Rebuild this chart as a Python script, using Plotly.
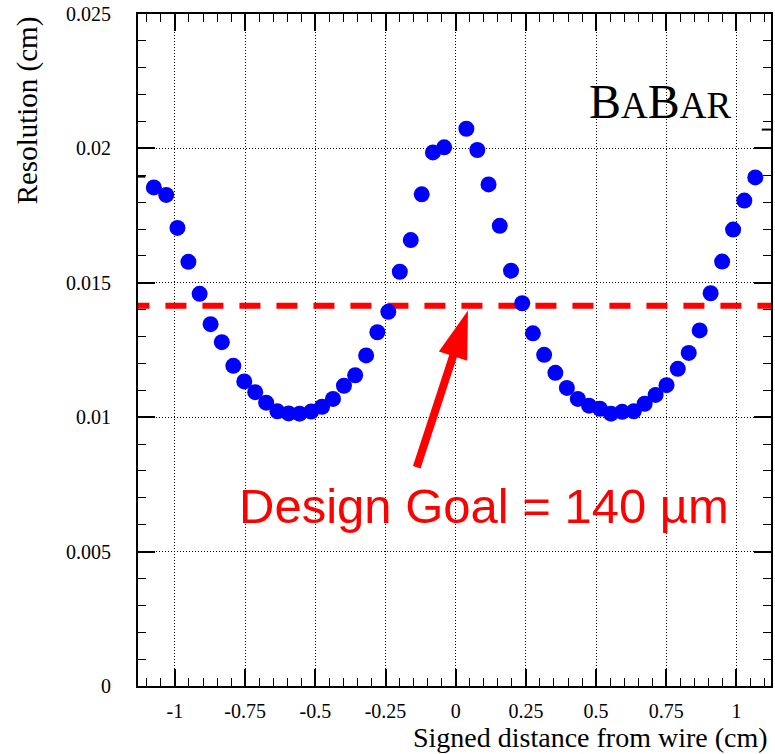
import plotly.graph_objects as go

# ---------------- data ----------------
distance_cm = [
    -1.075, -1.031, -0.991, -0.952, -0.912, -0.873, -0.833, -0.792, -0.753, -0.714,
    -0.675, -0.635, -0.595, -0.556, -0.515, -0.476, -0.437, -0.398, -0.358, -0.319,
    -0.279, -0.240, -0.199, -0.160, -0.121, -0.081, -0.041,
    0.038, 0.077, 0.117, 0.157, 0.197, 0.237, 0.275, 0.315, 0.355, 0.396,
    0.435, 0.475, 0.514, 0.553, 0.593, 0.634, 0.673, 0.712, 0.751, 0.791,
    0.830, 0.869, 0.908, 0.949, 0.988, 1.028, 1.067,
]
resolution_cm = [
    0.01855, 0.01827, 0.01704, 0.01578, 0.01459, 0.01346, 0.01279, 0.01191, 0.01133, 0.01093,
    0.01054, 0.01022, 0.01014, 0.01013, 0.01021, 0.01039, 0.01068, 0.01117, 0.01156, 0.01230,
    0.01316, 0.01392, 0.01541, 0.01659, 0.01829, 0.01985, 0.02004,
    0.02073, 0.01994, 0.01866, 0.01712, 0.01545, 0.01424, 0.01312, 0.01232, 0.01165, 0.01109,
    0.01068, 0.01043, 0.01031, 0.01013, 0.01020, 0.01022, 0.01050, 0.01083, 0.01119, 0.01180,
    0.01239, 0.01323, 0.01461, 0.01579, 0.01698, 0.01806, 0.01892,
]
goal_x = [-1.1656, 1.16]
goal_y = [0.01415, 0.01415]

x_tickvals = [-1, -0.75, -0.5, -0.25, 0, 0.25, 0.5, 0.75, 1]
x_ticktext = ["-1", "-0.75", "-0.5", "-0.25", "0", "0.25", "0.5", "0.75", "1"]
y_tickvals = [0, 0.005, 0.01, 0.015, 0.02, 0.025]
y_ticktext = ["0", "0.005", "0.01", "0.015", "0.02", "0.025"]

arrow_tip = (0.0437, 0.01397)
arrow_tail = (-0.1386, 0.00814)

# ---------------- layout geometry ----------------
W, H = 775, 754
ML, MR, MT, MB = 138, 2, 14, 68
XR = [-1.1315, 1.123]
YR = [0.0, 0.025]
PW, PH = W - ML - MR, H - MT - MB


def d2p(x, y):
    px = ML + (x - XR[0]) / (XR[1] - XR[0]) * PW
    py = MT + PH - (y - YR[0]) / (YR[1] - YR[0]) * PH
    return px, py


def p2d(px, py):
    x = XR[0] + (px - ML) / PW * (XR[1] - XR[0])
    y = YR[0] + (MT + PH - py) / PH * (YR[1] - YR[0])
    return x, y


SERIF = "Liberation Serif, Times New Roman, serif"
SANS = "Liberation Sans, Arial, sans-serif"

fig = go.Figure()

fig.add_trace(go.Scatter(
    x=goal_x, y=goal_y, mode="lines",
    line=dict(color="#ff0000", width=6, dash="21px,16px"),
    hoverinfo="skip", showlegend=False,
))

fig.add_trace(go.Scatter(
    x=distance_cm, y=resolution_cm, mode="markers",
    marker=dict(color="#0000ff", size=16, line=dict(width=0)),
    showlegend=False,
))

# arrow (shaft + filled head) computed in pixel space
tpx, tpy = d2p(*arrow_tip)
lpx, lpy = d2p(*arrow_tail)
dx, dy = tpx - lpx, tpy - lpy
L = (dx ** 2 + dy ** 2) ** 0.5
ux, uy = dx / L, dy / L
nx, ny = -uy, ux
head_len, head_half = 48, 15
bx, by = tpx - head_len * ux, tpy - head_len * uy
c1 = p2d(bx + head_half * nx, by + head_half * ny)
c2 = p2d(bx - head_half * nx, by - head_half * ny)
base = p2d(bx + 2 * ux, by + 2 * uy)

fig.add_shape(type="line", xref="x", yref="y",
              x0=arrow_tail[0], y0=arrow_tail[1], x1=base[0], y1=base[1],
              line=dict(color="#ff0000", width=8))
fig.add_shape(type="path", xref="x", yref="y",
              path=f"M{arrow_tip[0]},{arrow_tip[1]} L{c1[0]},{c1[1]} L{c2[0]},{c2[1]} Z",
              fillcolor="#ff0000", line=dict(color="#ff0000", width=0))

# tiny edge marks seen in the original
fig.add_shape(type="line", xref="x", yref="y", x0=-1.1315, x1=-1.105, y0=0.01895, y1=0.01895,
              line=dict(color="black", width=2))
fig.add_shape(type="line", xref="x", yref="y", x0=1.09, x1=1.123, y0=0.0207, y1=0.0207,
              line=dict(color="black", width=2))

annotations = [
    dict(text="Design Goal = 140 µm", x=p2d(237, 0)[0], y=p2d(0, 506)[1],
         xref="x", yref="y", xanchor="left", yanchor="middle", showarrow=False,
         font=dict(family=SANS, size=49, color="#ff0000")),
    dict(text="B<span style='font-size:37px'>A</span>B<span style='font-size:37px'>AR</span>",
         x=(735 - ML) / PW, y=(MT + PH - 102) / PH, xref="paper", yref="paper",
         xanchor="right", yanchor="middle", showarrow=False,
         font=dict(family=SERIF, size=48, color="black")),
    dict(text="Resolution (cm)", textangle=-90,
         x=(27 - ML) / PW, y=(MT + PH - 110) / PH, xref="paper", yref="paper",
         xanchor="center", yanchor="middle", showarrow=False,
         font=dict(family=SERIF, size=29, color="black")),
    dict(text="Signed distance from wire (cm)",
         x=(772 - ML) / PW, y=(MT + PH - 737) / PH, xref="paper", yref="paper",
         xanchor="right", yanchor="middle", showarrow=False,
         font=dict(family=SERIF, size=28, color="black")),
]

axis_common = dict(
    showline=True, linecolor="black", linewidth=2, mirror="ticks",
    ticks="inside", ticklen=17, tickwidth=2, tickcolor="black",
    showgrid=True, gridcolor="black", gridwidth=1, griddash="1px,2px",
    zeroline=False,
    tickfont=dict(family=SERIF, size=20, color="black"),
)

fig.update_layout(
    width=W, height=H,
    margin=dict(l=ML, r=MR, t=MT, b=MB),
    paper_bgcolor="white", plot_bgcolor="white",
    showlegend=False,
    annotations=annotations,
    xaxis=dict(range=XR, tickmode="array", tickvals=x_tickvals, ticktext=x_ticktext,
               minor=dict(dtick=0.05, tick0=0, ticks="inside", ticklen=8, tickwidth=1,
                          tickcolor="black", showgrid=False),
               ticklabelstandoff=6, **axis_common),
    yaxis=dict(range=YR, tickmode="array", tickvals=y_tickvals, ticktext=y_ticktext,
               minor=dict(dtick=0.001, tick0=0, ticks="inside", ticklen=8, tickwidth=1,
                          tickcolor="black", showgrid=False),
               ticklabelstandoff=21, **axis_common),
)

fig.write_html("out.html")
